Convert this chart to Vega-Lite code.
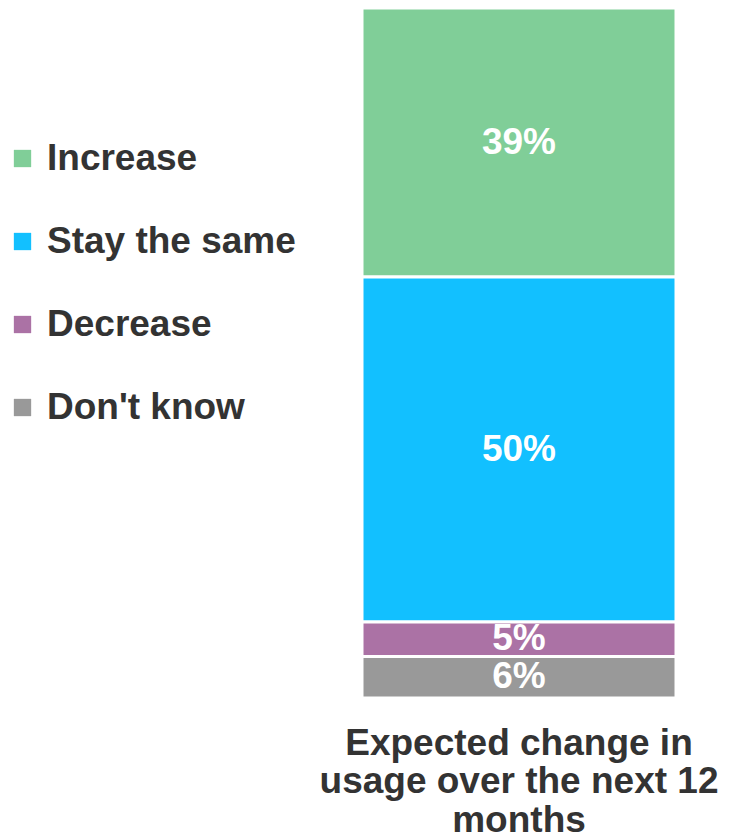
{
  "$schema": "https://vega.github.io/schema/vega-lite/v6.json",
  "width": 314,
  "height": 690,
  "autosize": {"type": "none"},
  "padding": {"left": 362, "top": 8, "right": 53, "bottom": 135},
  "background": "white",
  "config": {"view": {"stroke": null}, "font": "Liberation Sans"},
  "title": {
    "text": ["Expected change in", "usage over the next 12", "months"],
    "orient": "bottom",
    "anchor": "middle",
    "fontSize": 37,
    "fontWeight": "bold",
    "lineHeight": 38.5,
    "color": "#333333",
    "offset": 26
  },
  "data": {
    "values": [
      {"category": "Expected change in usage over the next 12 months", "response": "Increase", "pct": 39},
      {"category": "Expected change in usage over the next 12 months", "response": "Stay the same", "pct": 50},
      {"category": "Expected change in usage over the next 12 months", "response": "Decrease", "pct": 5},
      {"category": "Expected change in usage over the next 12 months", "response": "Don't know", "pct": 6}
    ]
  },
  "transform": [
    {"stack": "pct", "groupby": ["category"], "as": ["y0", "y1"]},
    {"calculate": "(datum.y0 + datum.y1) / 2", "as": "mid"},
    {"calculate": "datum.pct + '%'", "as": "label"}
  ],
  "encoding": {
    "x": {"field": "category", "type": "nominal", "axis": null, "scale": {"paddingInner": 0, "paddingOuter": 0}}
  },
  "layer": [
    {
      "mark": {"type": "bar", "stroke": "white", "strokeWidth": 3},
      "encoding": {
        "y": {"field": "y0", "type": "quantitative", "scale": {"domain": [0, 100], "reverse": true, "nice": false, "zero": false}, "axis": null},
        "y2": {"field": "y1"},
        "color": {
          "field": "response",
          "type": "nominal",
          "sort": ["Increase", "Stay the same", "Decrease", "Don't know"],
          "scale": {
            "domain": ["Increase", "Stay the same", "Decrease", "Don't know"],
            "range": ["#80CE98", "#12C0FF", "#AB72A5", "#999999"]
          },
          "legend": {
            "orient": "none",
            "legendX": -358,
            "legendY": 132,
            "direction": "vertical",
            "title": null,
            "padding": 0,
            "symbolType": "square",
            "symbolSize": 300,
            "symbolStrokeWidth": 0,
            "labelFont": "Liberation Sans",
            "labelFontSize": 37,
            "labelFontWeight": "bold",
            "labelColor": "#333333",
            "labelOffset": 6,
            "rowPadding": 45,
            "labelLimit": 400
          }
        }
      }
    },
    {
      "mark": {"type": "text", "color": "white", "fontSize": 37, "fontWeight": "bold", "baseline": "middle", "align": "center"},
      "encoding": {
        "y": {"field": "mid", "type": "quantitative"},
        "text": {"field": "label"}
      }
    }
  ]
}
